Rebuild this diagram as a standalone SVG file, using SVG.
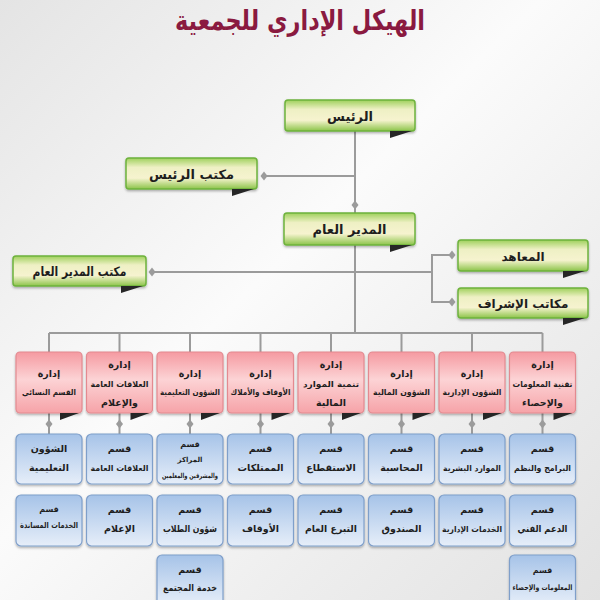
<svg xmlns="http://www.w3.org/2000/svg" xmlns:xlink="http://www.w3.org/1999/xlink" width="600" height="600" viewBox="0 0 600 600">
<defs>
<linearGradient id="bg" x1="0" y1="0" x2="1" y2="1">
<stop offset="0" stop-color="#e4e4e4"/>
<stop offset="0.45" stop-color="#fbfbfb"/>
<stop offset="0.7" stop-color="#efefef"/>
<stop offset="1" stop-color="#e2e2e2"/>
</linearGradient>
<linearGradient id="gg" x1="0" y1="0" x2="0" y2="1">
<stop offset="0" stop-color="#9fd05c"/>
<stop offset="0.3" stop-color="#eef0c4"/>
<stop offset="0.65" stop-color="#f6f3cf"/>
<stop offset="1" stop-color="#8cc449"/>
</linearGradient>
<linearGradient id="rg" x1="0" y1="0" x2="0" y2="1">
<stop offset="0" stop-color="#f59aa1"/>
<stop offset="0.45" stop-color="#fcd3d5"/>
<stop offset="1" stop-color="#f6a3a8"/>
</linearGradient>
<linearGradient id="bgr" x1="0" y1="0" x2="0" y2="1">
<stop offset="0" stop-color="#a6c3e8"/>
<stop offset="1" stop-color="#e6eef9"/>
</linearGradient>
<filter id="sh" x="-10%" y="-10%" width="120%" height="130%">
<feDropShadow dx="0" dy="1.5" stdDeviation="1.2" flood-color="#000" flood-opacity="0.3"/>
</filter>
<path id="dm" d="M0,-4.5 L3.5,0 L0,4.5 L-3.5,0Z" fill="#9b9b9b"/>
</defs>
<style>
text{font-family:"DejaVu Sans",sans-serif;text-anchor:middle;fill:#1e1e1e;font-weight:bold}
.g rect{fill:url(#gg);stroke:#6eb23c;stroke-width:1.5;filter:url(#sh)}
.r rect{fill:url(#rg);stroke:#e38a90;stroke-width:1.2;filter:url(#sh)}
.b rect{fill:url(#bgr);stroke:#7f9fca;stroke-width:1.2;filter:url(#sh)}
.t{fill:#262626}
.g text{font-size:13px}
.r text{font-size:9.5px}
.b text{font-size:9.5px}
.r text.sm,.b text.sm{font-size:8.3px}
.conn line,.conn polyline{stroke:#9b9b9b;stroke-width:2;fill:none}
.title{font-size:28px;fill:#8a1a40;font-weight:bold}
</style>
<rect width="600" height="600" fill="url(#bg)"/>
<text class="title" x="300" y="30" textLength="250" lengthAdjust="spacingAndGlyphs">الهيكل الإداري للجمعية</text>

<g class="conn">
<line x1="355" y1="131" x2="355" y2="213"/>
<line x1="355" y1="176" x2="262" y2="176"/>
<line x1="355" y1="245" x2="355" y2="333"/>
<line x1="150" y1="272" x2="432" y2="272"/>
<polyline points="454,255 432,255 432,302 454,302"/>
<line x1="49" y1="333" x2="542.5" y2="333"/>
<line x1="49" y1="333" x2="49" y2="352"/>
<line x1="119.5" y1="333" x2="119.5" y2="352"/>
<line x1="190" y1="333" x2="190" y2="352"/>
<line x1="260.5" y1="333" x2="260.5" y2="352"/>
<line x1="331" y1="333" x2="331" y2="352"/>
<line x1="401.5" y1="333" x2="401.5" y2="352"/>
<line x1="472" y1="333" x2="472" y2="352"/>
<line x1="542.5" y1="333" x2="542.5" y2="352"/>
<line x1="49" y1="413" x2="49" y2="434"/>
<line x1="119.5" y1="413" x2="119.5" y2="434"/>
<line x1="190" y1="413" x2="190" y2="434"/>
<line x1="260.5" y1="413" x2="260.5" y2="434"/>
<line x1="331" y1="413" x2="331" y2="434"/>
<line x1="401.5" y1="413" x2="401.5" y2="434"/>
<line x1="472" y1="413" x2="472" y2="434"/>
<line x1="542.5" y1="413" x2="542.5" y2="434"/>
<use xlink:href="#dm" x="264" y="176"/>
<use xlink:href="#dm" x="355" y="205"/>
<use xlink:href="#dm" x="152" y="272"/>
<use xlink:href="#dm" x="452" y="255"/>
<use xlink:href="#dm" x="452" y="302"/>
<use xlink:href="#dm" x="49" y="424"/>
<use xlink:href="#dm" x="119.5" y="424"/>
<use xlink:href="#dm" x="190" y="424"/>
<use xlink:href="#dm" x="260.5" y="424"/>
<use xlink:href="#dm" x="331" y="424"/>
<use xlink:href="#dm" x="401.5" y="424"/>
<use xlink:href="#dm" x="472" y="424"/>
<use xlink:href="#dm" x="542.5" y="424"/>
</g>

<g id="president" class="g"><rect x="285" y="100" width="130" height="31" rx="3"/><polygon class="t" points="390,131 412,131 390,138"/><text x="350" y="121">الرئيس</text></g>
<g id="president-office" class="g"><rect x="126" y="158" width="131" height="31" rx="3"/><polygon class="t" points="232,189 254,189 232,196"/><text x="191.5" y="179">مكتب الرئيس</text></g>
<g id="gm" class="g"><rect x="284" y="213" width="131" height="32" rx="3"/><polygon class="t" points="390,245 412,245 390,252"/><text x="349.5" y="234">المدير العام</text></g>
<g id="gm-office" class="g"><rect x="13" y="256" width="133" height="30" rx="3"/><polygon class="t" points="121,286 143,286 121,293"/><text x="79.5" y="276" textLength="94" lengthAdjust="spacingAndGlyphs">مكتب المدير العام</text></g>
<g id="institutes" class="g"><rect x="458" y="240" width="130" height="31" rx="3"/><polygon class="t" points="563,271 585,271 563,278"/><text x="523" y="261" style="font-size:12px">المعاهد</text></g>
<g id="supervision" class="g"><rect x="458" y="288" width="130" height="30" rx="3"/><polygon class="t" points="563,318 585,318 563,325"/><text x="523" y="308" style="font-size:12px">مكاتب الإشراف</text></g>

<g id="d0" class="r"><rect x="16" y="352" width="66" height="61" rx="4"/><polygon class="t" points="60,413 79,413 60,420"/><text x="49" y="377">إدارة</text><text class="sm" x="49" y="395" textLength="54" lengthAdjust="spacingAndGlyphs">القسم النسائي</text></g>
<g id="d1" class="r"><rect x="86.5" y="352" width="66" height="61" rx="4"/><polygon class="t" points="130.5,413 149.5,413 130.5,420"/><text x="119.5" y="368">إدارة</text><text class="sm" x="119.5" y="387" textLength="58" lengthAdjust="spacingAndGlyphs">العلاقات العامة</text><text x="119.5" y="406">والإعلام</text></g>
<g id="d2" class="r"><rect x="157" y="352" width="66" height="61" rx="4"/><polygon class="t" points="201,413 220,413 201,420"/><text x="190" y="377">إدارة</text><text class="sm" x="190" y="395" textLength="60" lengthAdjust="spacingAndGlyphs">الشؤون التعليمية</text></g>
<g id="d3" class="r"><rect x="227.5" y="352" width="66" height="61" rx="4"/><polygon class="t" points="271.5,413 290.5,413 271.5,420"/><text x="260.5" y="377">إدارة</text><text class="sm" x="260.5" y="395" textLength="60" lengthAdjust="spacingAndGlyphs">الأوقاف والأملاك</text></g>
<g id="d4" class="r"><rect x="298" y="352" width="66" height="61" rx="4"/><polygon class="t" points="342,413 361,413 342,420"/><text x="331" y="368">إدارة</text><text class="sm" x="331" y="387" textLength="56" lengthAdjust="spacingAndGlyphs">تنمية الموارد</text><text x="331" y="406">المالية</text></g>
<g id="d5" class="r"><rect x="368.5" y="352" width="66" height="61" rx="4"/><polygon class="t" points="412.5,413 431.5,413 412.5,420"/><text x="401.5" y="377">إدارة</text><text class="sm" x="401.5" y="395" textLength="57" lengthAdjust="spacingAndGlyphs">الشؤون المالية</text></g>
<g id="d6" class="r"><rect x="439" y="352" width="66" height="61" rx="4"/><polygon class="t" points="483,413 502,413 483,420"/><text x="472" y="377">إدارة</text><text class="sm" x="472" y="395" textLength="59" lengthAdjust="spacingAndGlyphs">الشؤون الإدارية</text></g>
<g id="d7" class="r"><rect x="509.5" y="352" width="66" height="61" rx="4"/><polygon class="t" points="553.5,413 572.5,413 553.5,420"/><text x="542.5" y="368">إدارة</text><text class="sm" x="542.5" y="387" textLength="60" lengthAdjust="spacingAndGlyphs">تقنية المعلومات</text><text x="542.5" y="406">والإحصاء</text></g>

<g id="s0a" class="b"><rect x="16" y="434" width="66" height="50" rx="5"/><text x="49" y="452">الشؤون</text><text x="49" y="471">التعليمية</text></g>
<g id="s1a" class="b"><rect x="86.5" y="434" width="66" height="50" rx="5"/><text x="119.5" y="452">قسم</text><text class="sm" x="119.5" y="471" textLength="58" lengthAdjust="spacingAndGlyphs">العلاقات العامة</text></g>
<g id="s2a" class="b"><rect x="157" y="434" width="66" height="50" rx="5"/><text x="190" y="447" style="font-size:8px">قسم</text><text x="190" y="462" style="font-size:7px">المراكز</text><text x="190" y="478" style="font-size:7px" textLength="56" lengthAdjust="spacingAndGlyphs">والمشرفين والمعلمين</text></g>
<g id="s3a" class="b"><rect x="227.5" y="434" width="66" height="50" rx="5"/><text x="260.5" y="452">قسم</text><text x="260.5" y="471">الممتلكات</text></g>
<g id="s4a" class="b"><rect x="298" y="434" width="66" height="50" rx="5"/><text x="331" y="452">قسم</text><text x="331" y="471">الاستقطاع</text></g>
<g id="s5a" class="b"><rect x="368.5" y="434" width="66" height="50" rx="5"/><text x="401.5" y="452">قسم</text><text x="401.5" y="471">المحاسبة</text></g>
<g id="s6a" class="b"><rect x="439" y="434" width="66" height="50" rx="5"/><text x="472" y="452">قسم</text><text class="sm" x="472" y="471" textLength="58" lengthAdjust="spacingAndGlyphs">الموارد البشرية</text></g>
<g id="s7a" class="b"><rect x="509.5" y="434" width="66" height="50" rx="5"/><text x="542.5" y="452">قسم</text><text class="sm" x="542.5" y="471" textLength="57" lengthAdjust="spacingAndGlyphs">البرامج والنظم</text></g>

<g id="s0b" class="b"><rect x="16" y="495" width="66" height="51" rx="5"/><text x="49" y="512" style="font-size:8px">قسم</text><text x="49" y="528" style="font-size:8px" textLength="58" lengthAdjust="spacingAndGlyphs">الخدمات المساندة</text></g>
<g id="s1b" class="b"><rect x="86.5" y="495" width="66" height="51" rx="5"/><text x="119.5" y="513">قسم</text><text x="119.5" y="532">الإعلام</text></g>
<g id="s2b" class="b"><rect x="157" y="495" width="66" height="51" rx="5"/><text x="190" y="513">قسم</text><text x="190" y="532" textLength="54" lengthAdjust="spacingAndGlyphs">شؤون الطلاب</text></g>
<g id="s3b" class="b"><rect x="227.5" y="495" width="66" height="51" rx="5"/><text x="260.5" y="513">قسم</text><text x="260.5" y="532">الأوقاف</text></g>
<g id="s4b" class="b"><rect x="298" y="495" width="66" height="51" rx="5"/><text x="331" y="513">قسم</text><text x="331" y="532" textLength="52" lengthAdjust="spacingAndGlyphs">التبرع العام</text></g>
<g id="s5b" class="b"><rect x="368.5" y="495" width="66" height="51" rx="5"/><text x="401.5" y="513">قسم</text><text x="401.5" y="532">الصندوق</text></g>
<g id="s6b" class="b"><rect x="439" y="495" width="66" height="51" rx="5"/><text x="472" y="513">قسم</text><text class="sm" x="472" y="532" textLength="60" lengthAdjust="spacingAndGlyphs">الخدمات الإدارية</text></g>
<g id="s7b" class="b"><rect x="509.5" y="495" width="66" height="51" rx="5"/><text x="542.5" y="513">قسم</text><text x="542.5" y="532" textLength="50" lengthAdjust="spacingAndGlyphs">الدعم الفني</text></g>

<g id="s2c" class="b"><rect x="157" y="555" width="66" height="50" rx="5"/><text x="190" y="573">قسم</text><text x="190" y="591" textLength="54" lengthAdjust="spacingAndGlyphs">خدمة المجتمع</text></g>
<g id="s7c" class="b"><rect x="509.5" y="555" width="66" height="50" rx="5"/><text x="542.5" y="573" style="font-size:8px">قسم</text><text x="542.5" y="590" style="font-size:7.5px" textLength="60" lengthAdjust="spacingAndGlyphs">المعلومات والإحصاء</text></g>
</svg>
